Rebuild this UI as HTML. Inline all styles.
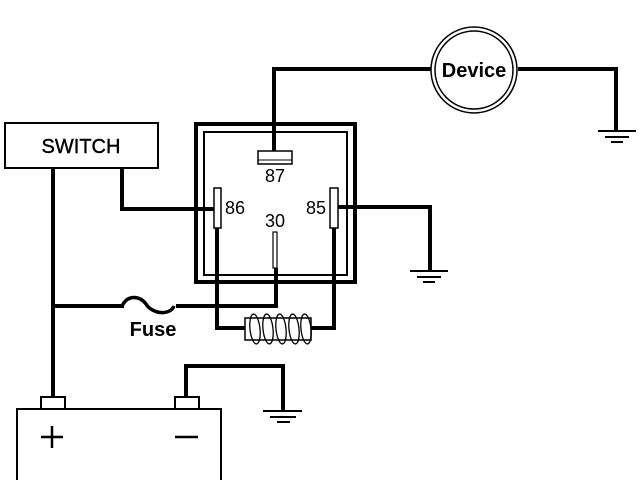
<!DOCTYPE html>
<html><head><meta charset="utf-8"><style>html,body{margin:0;padding:0;background:#fff}svg{display:block}</style></head>
<body>
<svg width="640" height="480" viewBox="0 0 640 480" xmlns="http://www.w3.org/2000/svg" font-family="Liberation Sans, Arial, sans-serif">
<rect width="640" height="480" fill="#fff"/>
<g fill="none" stroke="#000" stroke-width="4" stroke-linejoin="miter">
 <polyline points="53,168 53,398"/>
 <polyline points="122,168 122,209 214,209"/>
 <polyline points="274,151 274,69 432,69"/>
 <polyline points="518,69 616,69 616,131"/>
 <polyline points="338,207 430,207 430,271"/>
 <polyline points="276,268 276,306 176,306"/>
 <polyline points="124,306 53,306"/>
 <polyline points="217,228 217,328 245,328"/>
 <polyline points="311,328 334,328 334,228"/>
 <polyline points="186,398 186,366 283,366 283,411"/>
 <rect x="196" y="124" width="159" height="158"/>
</g>
<g fill="none" stroke="#000" stroke-width="2">
 <rect x="204" y="132" width="143" height="143"/>
 <path d="M122,306 C128,294 140,296 146,304 C152,314 170,316 174,306" stroke-width="3.5"/>
 <rect x="5" y="123" width="153" height="45" fill="#fff"/>
 <circle cx="474" cy="70" r="43" stroke-width="1.5" fill="#fff"/>
 <circle cx="474" cy="70" r="39" stroke-width="1.5"/>
 <path d="M598,131 H636 M605,137 H629 M611,142 H623"/>
 <path d="M410,271 H448 M417,277 H441 M423,282 H435"/>
 <path d="M263,411 H302 M270,417 H296 M277,422 H290"/>
 <rect x="17" y="409" width="204" height="80" fill="#fff"/>
 <rect x="41" y="397" width="24" height="12" fill="#fff"/>
 <rect x="175" y="397" width="24" height="12" fill="#fff"/>
 <path d="M41,437 H63 M52,426 V448 M175,437 H198" stroke-width="2.5"/>
 <rect x="258" y="151" width="34" height="13" fill="#fff" stroke-width="1.5"/>
 <line x1="258" y1="160" x2="292" y2="160" stroke-width="1"/>
 <rect x="214" y="188" width="7" height="40" fill="#fff" stroke-width="1.5"/>
 <rect x="330" y="188" width="8" height="40" fill="#fff" stroke-width="1.5"/>
 <rect x="273" y="232" width="4" height="36" fill="#fff" stroke-width="1.2"/>
 <rect x="245" y="318" width="66" height="22" fill="#fff" stroke-width="1.5"/>
 <g stroke-width="1.3">
  <ellipse cx="255" cy="329" rx="5" ry="15" transform="rotate(-6 255 329)"/>
  <ellipse cx="268" cy="329" rx="5" ry="15" transform="rotate(-6 268 329)"/>
  <ellipse cx="281" cy="329" rx="5" ry="15" transform="rotate(-6 281 329)"/>
  <ellipse cx="294" cy="329" rx="5" ry="15" transform="rotate(-6 294 329)"/>
  <ellipse cx="306" cy="329" rx="5" ry="15" transform="rotate(-6 306 329)"/>
 </g>
</g>
<g fill="#000">
 <text x="81" y="153" font-size="20" text-anchor="middle" stroke="#000" stroke-width="0.4">SWITCH</text>
 <text x="474" y="77" font-size="20" font-weight="bold" text-anchor="middle">Device</text>
 <text x="275" y="182" font-size="18" text-anchor="middle">87</text>
 <text x="235" y="214" font-size="18" text-anchor="middle">86</text>
 <text x="316" y="214" font-size="18" text-anchor="middle">85</text>
 <text x="275" y="227" font-size="18" text-anchor="middle">30</text>
 <text x="153" y="336" font-size="20" font-weight="bold" text-anchor="middle">Fuse</text>
</g>
</svg>
</body></html>
